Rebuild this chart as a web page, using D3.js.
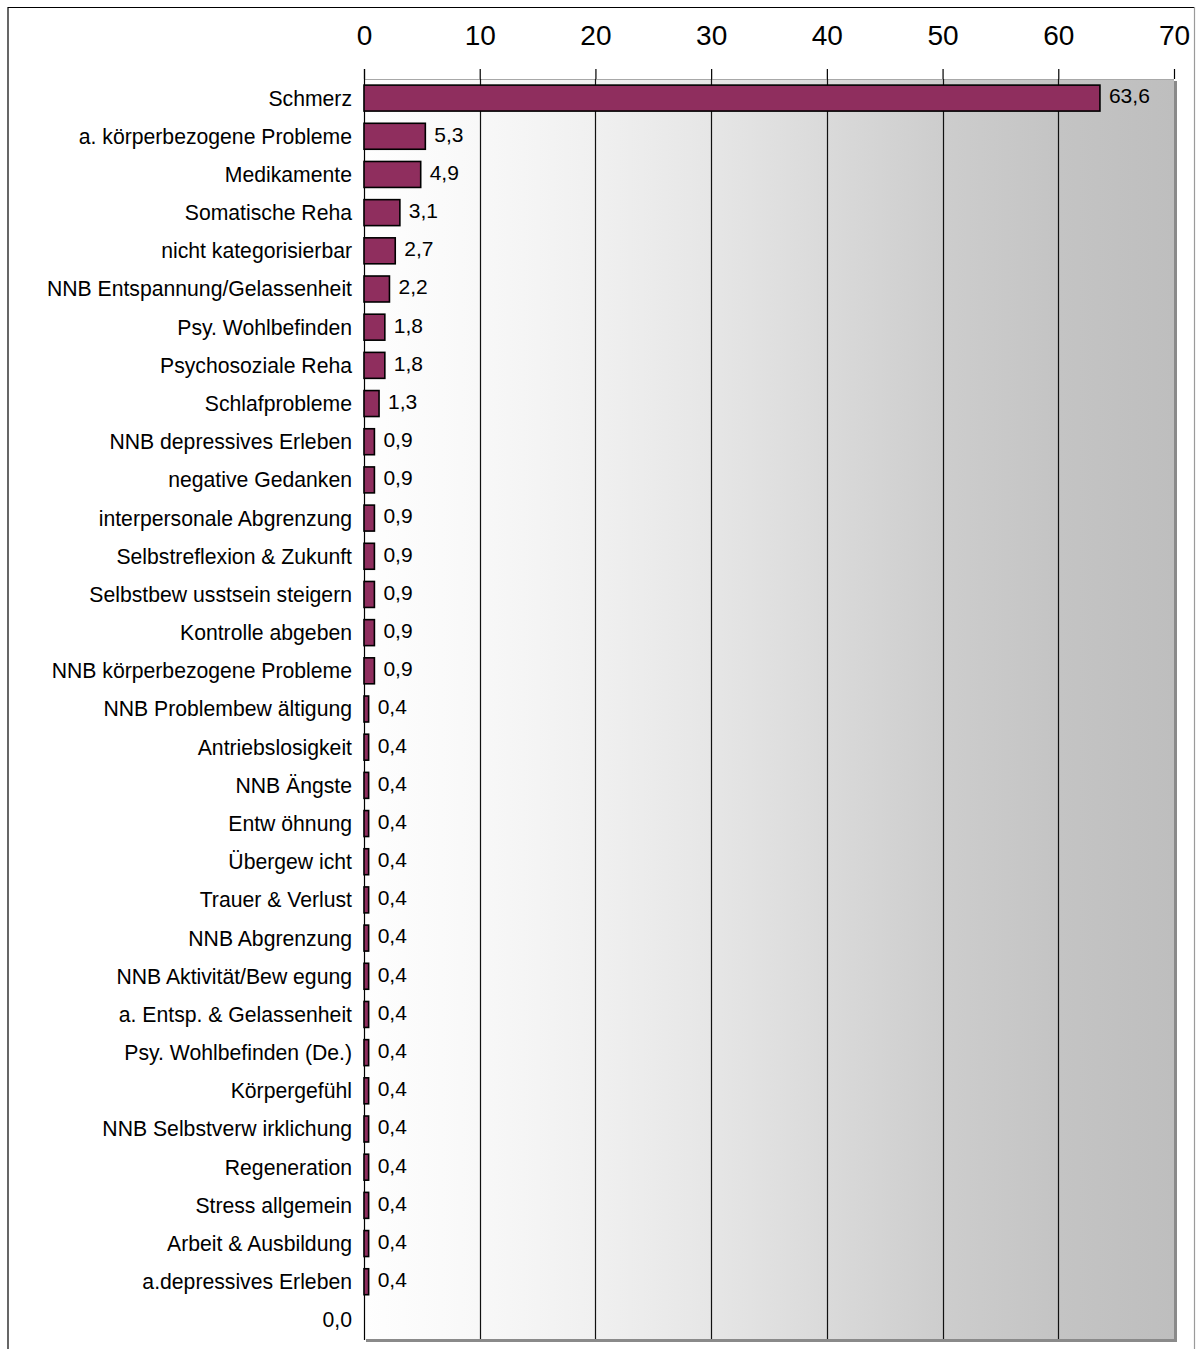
<!DOCTYPE html>
<html>
<head>
<meta charset="utf-8">
<script src="https://cdn.jsdelivr.net/npm/d3@7"></script>
<style>
  html, body { margin: 0; padding: 0; background: #fff; }
  svg { display: block; font-family: "Liberation Sans", Arial, sans-serif; }
</style>
</head>
<body>
<svg id="chart" width="1196" height="1349"></svg>
<script>
// Categories (top to bottom) and their percentages; the last row has no bar.
const categories = [
  "Schmerz",
  "a. körperbezogene Probleme",
  "Medikamente",
  "Somatische Reha",
  "nicht kategorisierbar",
  "NNB Entspannung/Gelassenheit",
  "Psy. Wohlbefinden",
  "Psychosoziale Reha",
  "Schlafprobleme",
  "NNB depressives Erleben",
  "negative Gedanken",
  "interpersonale Abgrenzung",
  "Selbstreflexion & Zukunft",
  "Selbstbew usstsein steigern",
  "Kontrolle abgeben",
  "NNB körperbezogene Probleme",
  "NNB Problembew ältigung",
  "Antriebslosigkeit",
  "NNB Ängste",
  "Entw öhnung",
  "Übergew icht",
  "Trauer & Verlust",
  "NNB Abgrenzung",
  "NNB Aktivität/Bew egung",
  "a. Entsp. & Gelassenheit",
  "Psy. Wohlbefinden (De.)",
  "Körpergefühl",
  "NNB Selbstverw irklichung",
  "Regeneration",
  "Stress allgemein",
  "Arbeit & Ausbildung",
  "a.depressives Erleben",
  "0,0"
];
const values = [
  63.6, 5.3, 4.9, 3.1, 2.7, 2.2, 1.8, 1.8, 1.3,
  0.9, 0.9, 0.9, 0.9, 0.9, 0.9, 0.9,
  0.4, 0.4, 0.4, 0.4, 0.4, 0.4, 0.4, 0.4, 0.4, 0.4, 0.4, 0.4, 0.4, 0.4, 0.4, 0.4,
  null
];
const xTicks = [0, 10, 20, 30, 40, 50, 60, 70];

const data = categories.map((c, i) => ({ cat: c, val: values[i] }));

const svg = d3.select("#chart");
const plot = { left: 364, right: 1174, top: 79, bottom: 1339 };

const x = d3.scaleLinear().domain([0, 70]).range([plot.left, plot.right]);
const y = d3.scaleBand().domain(categories)
  .range([plot.top, plot.bottom])
  .paddingInner(0.32).paddingOuter(0.16);

const fmt = v => d3.format(".1f")(v).replace(".", ",");

// Outer frame
svg.append("line").attr("x1", 8).attr("x2", 1194).attr("y1", 7.5).attr("y2", 7.5)
  .attr("stroke", "#000").attr("stroke-width", 1.2);
svg.append("line").attr("x1", 8).attr("x2", 8).attr("y1", 7).attr("y2", 1349)
  .attr("stroke", "#000").attr("stroke-width", 1.2);
svg.append("line").attr("x1", 1194.5).attr("x2", 1194.5).attr("y1", 7).attr("y2", 1349)
  .attr("stroke", "#9a9a9a").attr("stroke-width", 1.2);

// Plot background: left-to-right grey gradient
const defs = svg.append("defs");
const grad = defs.append("linearGradient").attr("id", "bg")
  .attr("x1", "0%").attr("x2", "100%").attr("y1", "0%").attr("y2", "0%");
[
  [0, "#fefefe"], [0.143, "#f8f8f8"], [0.286, "#f0f0f0"], [0.429, "#e6e6e6"],
  [0.571, "#dadada"], [0.714, "#cdcdcd"], [0.857, "#c4c4c4"], [1, "#bebebe"]
].forEach(([o, c]) => grad.append("stop").attr("offset", o).attr("stop-color", c));

// Shadow on the right and bottom of the plot
svg.append("rect")
  .attr("x", plot.left + 2).attr("y", plot.top + 2)
  .attr("width", plot.right - plot.left + 1).attr("height", plot.bottom - plot.top + 1)
  .attr("fill", "#8a8a8a");
svg.append("rect")
  .attr("x", plot.left).attr("y", plot.top)
  .attr("width", plot.right - plot.left).attr("height", plot.bottom - plot.top)
  .attr("fill", "url(#bg)");
svg.append("line").attr("x1", plot.left).attr("x2", plot.right)
  .attr("y1", plot.top + 0.5).attr("y2", plot.top + 0.5)
  .attr("stroke", "#a8a8a8").attr("stroke-width", 1);

// Vertical grid lines
svg.append("g").selectAll("line")
  .data(xTicks.filter(t => t > 0 && t < 70))
  .join("line")
  .attr("x1", d => Math.round(x(d)) + 0.5).attr("x2", d => Math.round(x(d)) + 0.5)
  .attr("y1", plot.top).attr("y2", plot.bottom)
  .attr("stroke", "#111").attr("stroke-width", 1.2);

// Top axis
const axis = svg.append("g")
  .attr("transform", `translate(0,${plot.top})`)
  .call(d3.axisTop(x).tickValues(xTicks).tickSize(10).tickPadding(24).tickFormat(d3.format("d")));
axis.select(".domain").remove();
axis.selectAll(".tick line").attr("stroke", "#000").attr("stroke-width", 1.2);
axis.selectAll(".tick text")
  .attr("font-family", "Liberation Sans, Arial, sans-serif")
  .attr("font-size", 28).attr("fill", "#000");

// Category axis line
svg.append("line")
  .attr("x1", plot.left + 0.5).attr("x2", plot.left + 0.5)
  .attr("y1", plot.top - 10).attr("y2", plot.bottom + 1)
  .attr("stroke", "#000").attr("stroke-width", 1.2);

// Category labels
svg.append("g").selectAll("text")
  .data(data)
  .join("text")
  .attr("x", plot.left - 12)
  .attr("y", d => y(d.cat) + y.bandwidth() / 2)
  .attr("dy", "0.35em")
  .attr("text-anchor", "end")
  .attr("font-size", 21.2)
  .attr("fill", "#000")
  .text(d => d.cat);

// Bars
const withVal = data.filter(d => d.val != null);
svg.append("g").selectAll("rect")
  .data(withVal)
  .join("rect")
  .attr("x", x(0))
  .attr("y", d => y(d.cat))
  .attr("width", d => x(d.val) - x(0))
  .attr("height", y.bandwidth())
  .attr("fill", "#8f2e5e")
  .attr("stroke", "#000")
  .attr("stroke-width", 1.6);

// Value labels
svg.append("g").selectAll("text")
  .data(withVal)
  .join("text")
  .attr("x", d => x(d.val) + 9)
  .attr("y", d => y(d.cat) + y.bandwidth() / 2 - 2)
  .attr("dy", "0.35em")
  .attr("font-size", 21)
  .attr("fill", "#000")
  .text(d => fmt(d.val));
</script>
</body>
</html>
